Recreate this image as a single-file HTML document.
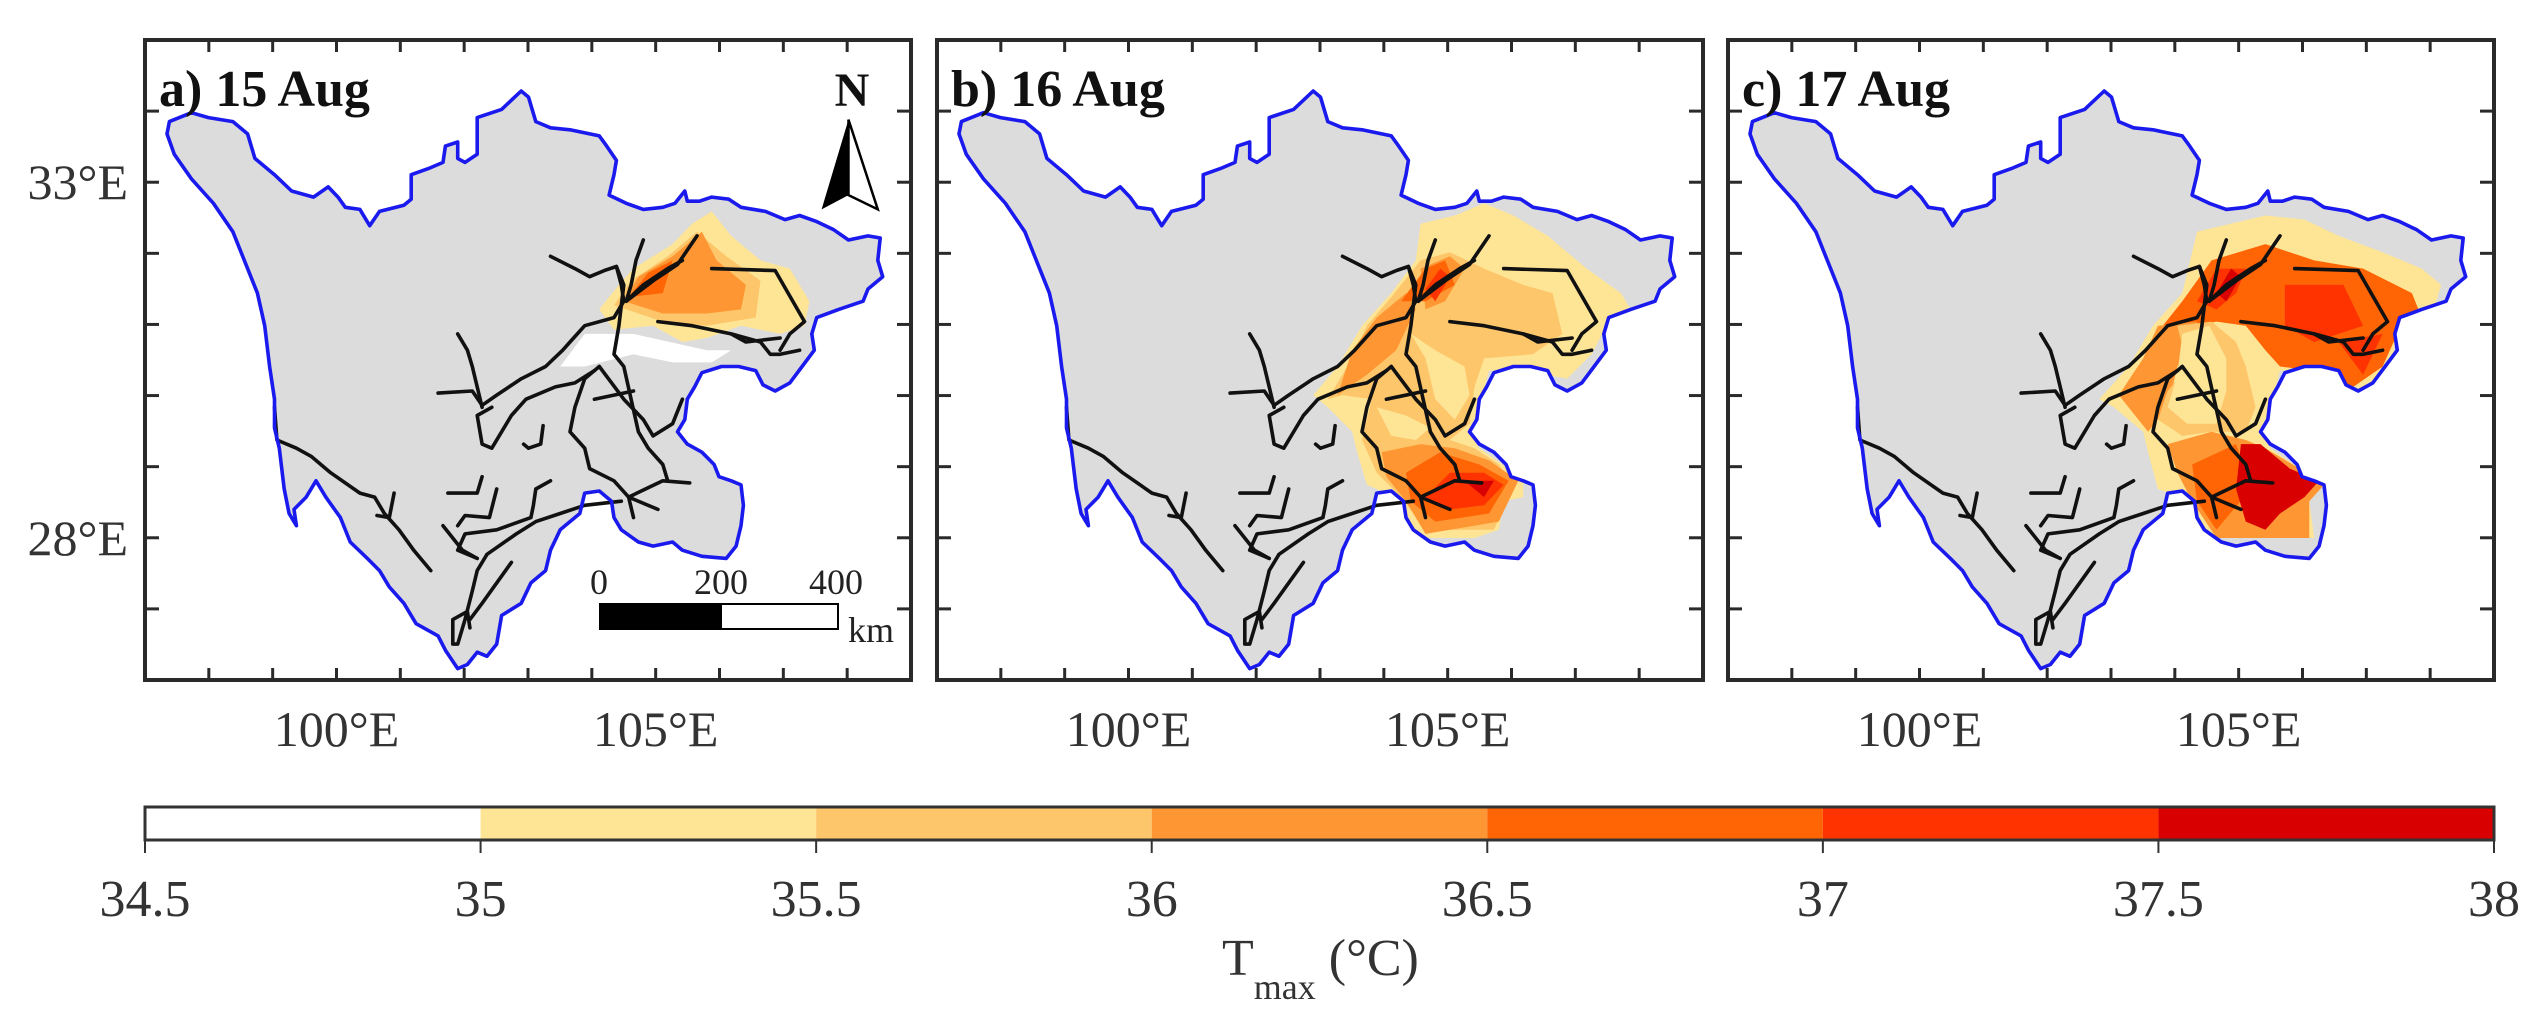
<!DOCTYPE html>
<html><head><meta charset="utf-8"><style>
html,body{margin:0;padding:0;background:#fff;}
svg{display:block;font-family:"Liberation Serif",serif;}
</style></head><body>
<svg id="fig" xmlns="http://www.w3.org/2000/svg" width="2533" height="1025" viewBox="0 0 2533 1025"></svg>
<script>
// ---------- data ----------
const levels = [34.5, 35, 35.5, 36, 36.5, 37, 37.5, 38];
const levelColors = ['#ffffff','#fee596','#fdc66a','#fe9733','#ff6405','#ff3300','#d80000'];
const panelLabels = ['a) 15  Aug','b) 16  Aug','c) 17  Aug'];
const lonTicks = [100, 105];
const latTicks = [33, 28];
const lonMinorTicks = [98,99,100,101,102,103,104,105,106,107,108];
const latMinorTicks = [27,28,29,30,31,32,33,34];
const scaleBarLabels = ['0','200','400'];

// outline of the province in panel units (0..1568 each axis)
const outline = [[50,200],[95,178],[130,190],[180,200],[210,230],[225,290],[265,330],[300,370],[345,385],[375,360],[395,385],[410,410],[440,415],[460,455],[480,420],[530,405],[545,390],[545,330],[580,315],[610,300],[615,260],[640,250],[640,290],[655,300],[680,280],[680,190],[730,170],[770,125],[785,140],[800,200],[830,215],[870,220],[930,235],[945,260],[965,295],[960,330],[950,380],[985,400],[1020,415],[1060,410],[1085,400],[1105,370],[1110,395],[1135,395],[1160,385],[1195,390],[1220,410],[1270,420],[1310,440],[1340,430],[1375,445],[1410,465],[1440,490],[1480,480],[1505,485],[1500,540],[1510,580],[1480,610],[1470,640],[1420,660],[1375,680],[1365,720],[1370,760],[1345,800],[1320,840],[1290,860],[1265,845],[1250,810],[1215,800],[1180,800],[1140,815],[1125,850],[1110,880],[1105,930],[1090,960],[1110,990],[1140,1010],[1165,1040],[1175,1070],[1200,1080],[1220,1090],[1225,1140],[1220,1190],[1210,1240],[1190,1270],[1140,1265],[1100,1250],[1080,1230],[1040,1240],[1010,1230],[975,1200],[960,1170],[955,1130],[930,1105],[900,1110],[890,1160],[870,1180],[850,1200],[830,1250],[820,1300],[790,1330],[770,1380],[730,1410],[720,1480],[700,1510],[680,1500],[660,1530],[640,1540],[615,1495],[600,1460],[555,1430],[530,1380],[500,1340],[480,1300],[455,1270],[420,1230],[400,1170],[370,1120],[350,1080],[330,1120],[305,1150],[310,1190],[295,1160],[285,1100],[275,1000],[265,950],[265,880],[255,800],[245,700],[230,620],[210,560],[180,470],[140,400],[95,340],[60,280],[45,230]];

const railways = [
 [[830,530],[880,560],[910,580],[940,565],[965,555],[975,600],[980,640],[960,680],[900,700],[870,740],[855,760],[820,800],[770,830],[720,870],[690,895],[670,860],[600,865]],
 [[965,555],[980,600],[970,700],[960,770],[980,800],[1010,960],[1030,1000],[1060,1040],[1070,1080]],
 [[1020,490],[1005,540],[995,600],[985,640]],
 [[985,640],[1040,590],[1090,550],[1130,480]],
 [[985,640],[1020,600],[1070,560],[1100,540]],
 [[1050,690],[1120,700],[1200,720],[1260,740],[1280,770],[1300,770],[1340,760]],
 [[1160,560],[1290,565],[1350,690],[1320,720],[1300,760]],
 [[1200,720],[1230,740],[1300,730]],
 [[920,810],[880,840],[840,850],[780,880],[750,920],[710,1000],[690,990],[680,920],[710,900]],
 [[640,720],[660,760],[670,800],[690,900]],
 [[930,800],[900,830],[880,900],[870,960],[900,1000],[910,1050],[960,1080],[990,1120],[1060,1080],[1115,1085]],
 [[930,800],[980,880],[1020,930],[1040,970],[1080,940],[1100,880]],
 [[920,880],[1000,860]],
 [[990,1120],[1050,1150]],[[990,1120],[1000,1170]],
 [[975,1130],[900,1140],[850,1160],[800,1180],[760,1210],[700,1260],[680,1300],[670,1350],[655,1420],[640,1480],[630,1480],[630,1420],[660,1400],[665,1440]],
 [[830,1080],[800,1100],[795,1140],[790,1170],[720,1200],[655,1210],[640,1250],[680,1270]],
 [[690,1070],[680,1110],[620,1110]],
 [[720,1100],[705,1170],[655,1165],[640,1190]],
 [[610,1190],[650,1250],[680,1270]],
 [[750,1280],[720,1330],[690,1380],[665,1420]],
 [[265,900],[270,980],[310,1000],[340,1020],[380,1060],[440,1110],[470,1120],[490,1160],[520,1200],[550,1250],[585,1300]],
 [[510,1110],[500,1170],[475,1165]],
 [[815,945],[810,990],[785,1000],[775,990]]
];

// heat layers: [levelIndex, polygon]
const heatA = [
 [1, [[930,660],[970,600],[1000,560],[1080,500],[1120,450],[1160,420],[1200,480],[1260,540],[1320,560],[1360,640],[1350,700],[1300,720],[1220,700],[1150,730],[1100,740],[1040,700],[960,710]]],
 [2, [[960,650],[995,590],[1070,530],[1130,470],[1190,530],[1260,590],[1250,680],[1150,700],[1060,690]]],
 [3, [[980,640],[1010,580],[1080,530],[1140,470],[1170,540],[1230,600],[1220,660],[1150,670],[1060,670]]],
 [4, [[990,630],[1030,570],[1080,540],[1060,620]]],
 [0, [[850,800],[900,720],[1000,720],[1150,760],[1200,760],[1160,790],[1080,790],[1000,770],[900,800]]]
];
const heatB = [
 [1, [[990,450],[1060,430],[1120,400],[1180,430],[1250,480],[1330,560],[1400,620],[1430,680],[1370,700],[1340,770],[1290,830],[1200,810],[1130,810],[1110,900],[1090,960],[1110,1000],[1170,1050],[1200,1080],[1200,1120],[1160,1130],[1150,1200],[1100,1220],[1000,1220],[970,1200],[950,1130],[920,1110],[880,1090],[860,1010],[850,960],[800,900],[770,870],[820,800],[870,700],[930,620],[980,540]]],
 [2, [[930,630],[990,540],[1050,520],[1120,560],[1200,600],[1260,620],[1280,720],[1220,770],[1120,780],[1100,850],[1090,940],[1050,980],[1100,1000],[1150,1040],[1180,1100],[1140,1200],[1000,1200],[950,1120],[900,1060],[870,980],[890,880],[830,870],[800,880],[850,780],[880,700]]],
 [1, [[970,720],[1000,780],[1020,880],[1060,930],[1090,870],[1080,800],[1020,760]]],
 [1, [[900,900],[960,920],[1010,950],[980,980],[930,970]]],
 [3, [[850,760],[900,680],[960,620],[980,660],[940,760],[880,820],[820,870]]],
 [3, [[990,560],[1050,530],[1080,560],[1040,640],[1000,660]]],
 [3, [[910,1010],[990,990],[1060,1000],[1130,1030],[1190,1080],[1150,1180],[1000,1210],[960,1130],[920,1070]]],
 [4, [[950,640],[1000,560],[1040,540],[1060,600],[1000,640]]],
 [4, [[960,1060],[1030,1010],[1110,1040],[1170,1080],[1130,1160],[1020,1180],[970,1130]]],
 [5, [[1000,610],[1030,560],[1050,580],[1020,640]]],
 [5, [[1050,1060],[1120,1060],[1160,1090],[1120,1140],[1050,1150],[1000,1120]]],
 [6, [[1080,1080],[1140,1080],[1120,1120]]]
];
const heatC = [
 [1, [[960,470],[1100,430],[1180,440],[1250,480],[1340,520],[1420,560],[1460,600],[1440,680],[1370,700],[1360,780],[1300,860],[1270,840],[1200,810],[1130,810],[1110,900],[1090,960],[1110,1000],[1170,1050],[1220,1080],[1190,1130],[1200,1220],[1120,1220],[1000,1220],[960,1200],[950,1130],[880,1100],[860,1010],[850,960],[790,900],[760,880],[820,800],[870,700],[930,620]]],
 [4, [[930,640],[990,540],[1100,500],[1200,540],[1300,560],[1400,620],[1420,680],[1370,720],[1340,800],[1280,850],[1200,810],[1130,800],[1100,760],[1060,700],[1000,690],[960,700],[890,700]]],
 [3, [[800,870],[850,780],[880,700],[960,690],[970,760],[920,800],[900,900],[860,960]]],
 [2, [[920,700],[990,690],[1040,740],[1060,800],[1080,900],[1060,960],[990,960],[930,970],[880,930],[900,860],[940,800]]],
 [1, [[930,720],[985,700],[1020,780],[1020,860],[1000,940],[940,940],[900,900],[920,820]]],
 [3, [[900,990],[990,960],[1060,980],[1100,1000],[1170,1050],[1220,1090],[1190,1130],[1190,1220],[1000,1220],[950,1130],[920,1060]]],
 [4, [[950,1040],[1040,990],[1070,1100],[1000,1200],[960,1130]]],
 [6, [[1050,990],[1090,990],[1150,1050],[1210,1080],[1180,1120],[1130,1160],[1100,1200],[1060,1180],[1040,1100]]],
 [5, [[960,640],[1000,560],[1060,560],[1040,620],[1000,660]]],
 [5, [[1140,600],[1260,600],[1300,700],[1200,740],[1140,700]]],
 [5, [[1250,740],[1340,720],[1300,820]]],
 [6, [[1000,620],[1030,560],[1050,580],[1020,640]]]
];
const heatData = [heatA, heatB, heatC];

// ---------- layout / scales ----------
const NS = 'http://www.w3.org/2000/svg';
const svg = document.getElementById('fig');
const panelLeft = [145, 937, 1728];
const panelW = 766, panelTop = 40, panelH = 640;
const lonMin = 97, lonMax = 109, latMin = 26, latMax = 35;
function lonX(p, lon){ return panelLeft[p] + (lon - lonMin) / (lonMax - lonMin) * panelW; }
function latY(lat){ return panelTop + (latMax - lat) / (latMax - latMin) * panelH; }
function ux(p, u){ return panelLeft[p] + u * panelW / 1568; }
function vy(v){ return panelTop + v * panelH / 1568; }
function ptsStr(p, arr){ return arr.map(q => ux(p,q[0]).toFixed(1) + ',' + vy(q[1]).toFixed(1)).join(' '); }
function mk(tag, attrs, parent){ const e = document.createElementNS(NS, tag); for (const k in attrs) e.setAttribute(k, attrs[k]); (parent||svg).appendChild(e); return e; }

const defs = mk('defs', {});

for (let p = 0; p < 3; p++) {
  const g = mk('g', {});
  
  
  const cp = mk('clipPath', {id: 'clip' + p}, defs);
  mk('polygon', {points: ptsStr(p, outline)}, cp);
  const land = mk('polygon', {points: ptsStr(p, outline), fill: '#dcdcdc', stroke: 'none'}, g);
  
  
  const hg = mk('g', {'clip-path': 'url(#clip' + p + ')'}, g);
  
  
  heatData[p].forEach(h => {
    const poly = mk('polygon', {points: ptsStr(p, h[1]), fill: levelColors[h[0]]}, hg);
    
    
  });
  railways.forEach(r => {
    const l = mk('polyline', {points: ptsStr(p, r), fill: 'none', stroke: '#111', 'stroke-width': 3.6, 'stroke-linejoin': 'round', 'stroke-linecap': 'round'}, g);
    
    
  });
  const ol = mk('polygon', {points: ptsStr(p, outline), fill: 'none', stroke: '#1a1aee', 'stroke-width': 3.6, 'stroke-linejoin': 'round'}, g);
  
  
  // frame
  const fr = mk('rect', {x: panelLeft[p], y: panelTop, width: panelW, height: panelH, fill: 'none', stroke: '#2a2a2a', 'stroke-width': 4}, g);
  
  
  lonMinorTicks.forEach(lon => {
    const x = lonX(p, lon);
    mk('line', {x1: x, x2: x, y1: panelTop + panelH, y2: panelTop + panelH - 12, stroke: '#2a2a2a', 'stroke-width': 3}, g);
    mk('line', {x1: x, x2: x, y1: panelTop, y2: panelTop + 12, stroke: '#2a2a2a', 'stroke-width': 3}, g);
  });
  latMinorTicks.forEach(lat => {
    const y = latY(lat);
    mk('line', {x1: panelLeft[p], x2: panelLeft[p] + 14, y1: y, y2: y, stroke: '#2a2a2a', 'stroke-width': 3}, g);
    mk('line', {x1: panelLeft[p] + panelW, x2: panelLeft[p] + panelW - 14, y1: y, y2: y, stroke: '#2a2a2a', 'stroke-width': 3}, g);
  });
  lonTicks.forEach(lon => {
    const t = mk('text', {x: lonX(p, lon), y: 746, 'font-size': 50, 'text-anchor': 'middle', fill: '#333'}, g);
    t.textContent = lon + '°E';
    
    
  });
  const pl = mk('text', {x: panelLeft[p] + 14, y: 106, 'font-size': 52, 'font-weight': 'bold', fill: '#111'}, g);
  pl.textContent = panelLabels[p];
  
  
}
latTicks.forEach(lat => {
  const t = mk('text', {x: 128, y: latY(lat) + 17, 'font-size': 50, 'text-anchor': 'end', fill: '#333'});
  t.textContent = lat + '°E';
  
  
});

// north arrow (panel a)
const na = mk('g', {});


const nt = mk('text', {x: 852, y: 106, 'font-size': 48, 'font-weight': 'bold', 'text-anchor': 'middle', fill: '#111'}, na);
nt.textContent = 'N';
mk('polygon', {points: `${ux(0,1440)},${vy(195)} ${ux(0,1385)},${vy(415)} ${ux(0,1440)},${vy(380)}`, fill: '#000'}, na);
mk('polygon', {points: `${ux(0,1440)},${vy(195)} ${ux(0,1500)},${vy(415)} ${ux(0,1440)},${vy(380)}`, fill: '#fff', stroke: '#000', 'stroke-width': 2.5}, na);

// scale bar (panel a)
const sb = mk('g', {});


mk('rect', {x: 599, y: 603, width: 122, height: 27, fill: '#000'}, sb);
mk('rect', {x: 721, y: 604, width: 117, height: 25, fill: '#fff', stroke: '#000', 'stroke-width': 2}, sb);
const sbX = [599, 721, 836];
scaleBarLabels.forEach((s, i) => {
  const t = mk('text', {x: sbX[i], y: 594, 'font-size': 36, 'text-anchor': 'middle', fill: '#222'}, sb);
  t.textContent = s;
});
const km = mk('text', {x: 848, y: 642, 'font-size': 36, fill: '#222'}, sb);
km.textContent = 'km';

// colorbar
const cbL = 145, cbR = 2494, cbT = 807, cbB = 840;
function cbX(v){ return cbL + (v - levels[0]) / (levels[levels.length-1] - levels[0]) * (cbR - cbL); }
const cb = mk('g', {});


for (let i = 0; i < levelColors.length; i++) {
  const r = mk('rect', {x: cbX(levels[i]), y: cbT, width: cbX(levels[i+1]) - cbX(levels[i]), height: cbB - cbT, fill: levelColors[i]}, cb);
  
  
}
mk('rect', {x: cbL, y: cbT, width: cbR - cbL, height: cbB - cbT, fill: 'none', stroke: '#333', 'stroke-width': 3}, cb);
levels.forEach(v => {
  mk('line', {x1: cbX(v), x2: cbX(v), y1: cbB, y2: cbB + 13, stroke: '#333', 'stroke-width': 2}, cb);
  const t = mk('text', {x: cbX(v), y: 916, 'font-size': 52, 'text-anchor': 'middle', fill: '#333'}, cb);
  t.textContent = String(v);
  
  
});
const ttl = mk('text', {x: 1222, y: 975, 'font-size': 52, fill: '#333'});


ttl.innerHTML = 'T<tspan font-size="36" dy="24">max</tspan><tspan dy="-24"> (°C)</tspan>';
</script>
</body></html>
